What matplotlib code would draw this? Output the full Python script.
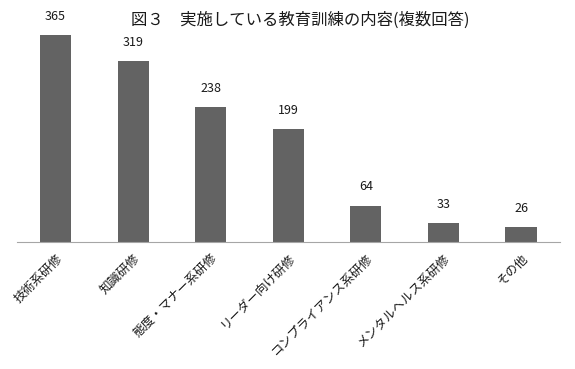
import matplotlib
matplotlib.use('Agg')
import matplotlib.pyplot as plt

plt.rcParams['font.family'] = ['Noto Sans CJK JP', 'DejaVu Sans']

title = '図３　実施している教育訓練の内容(複数回答)'
categories = ['技術系研修', '知識研修', '態度・マナー系研修', 'リーダー向け研修',
              'コンプライアンス系研修', 'メンタルヘルス系研修', 'その他']
counts = [365, 319, 238, 199, 64, 33, 26]

W, H = 575, 369
fig = plt.figure(figsize=(W / 100, H / 100), dpi=100)
# axes placed in pixels: baseline at y=242, 365 -> 207 px tall
ymax = 400
top_px = 242 - ymax * 207 / 365
ax = fig.add_axes([16.7 / W, (H - 242) / H, (559.8 - 16.7) / W, (242 - top_px) / H])

x = range(len(categories))
bars = ax.bar(x, counts, width=0.4, color='#636363')
for b, v in zip(bars, counts):
  ax.text(b.get_x() + b.get_width() / 2, v + 33.5, str(v), ha='center', va='center',
          fontsize=9, color='#1a1a1a')

ax.set_xlim(-0.5, len(categories) - 0.5)
ax.set_ylim(0, ymax)
ax.set_xticks(list(x))
ax.set_xticklabels(categories, rotation=45, ha='right', rotation_mode='anchor',
                   fontsize=9, color='#1a1a1a')
ax.tick_params(axis='x', length=0, pad=7)
ax.set_yticks([])
for s in ['top', 'right', 'left']:
  ax.spines[s].set_visible(False)
ax.spines['bottom'].set_color('#a6a6a6')

fig.text(300 / W, 1 - 20 / H, title, ha='center', va='center', fontsize=11.8, color='#1a1a1a')

fig.savefig('out.png', dpi=100)
